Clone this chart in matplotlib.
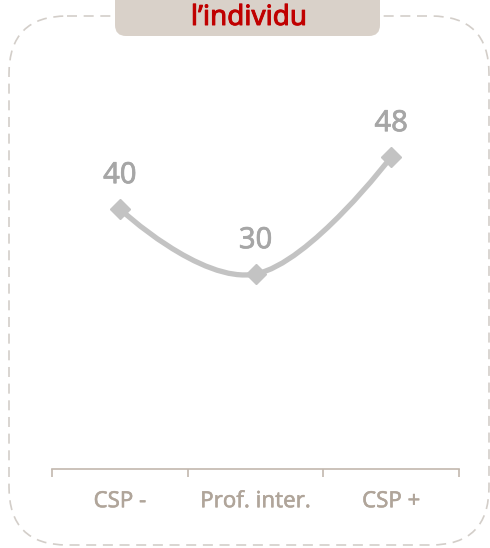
import numpy as np
import matplotlib.pyplot as plt
import matplotlib.patheffects as pe
from matplotlib.patches import FancyBboxPatch, PathPatch
from matplotlib.path import Path

# data
categories = ["CSP -", "Prof. inter.", "CSP +"]
values = [40, 30, 48]
title = "l\u2019individu"

plt.rcParams["font.family"] = ["Noto Sans", "DejaVu Sans"]


def heavier(color, w=0.7):
    # thicken the regular weight a bit (the original uses a medium weight)
    return [pe.withStroke(linewidth=w, foreground=color)]


W, H = 490, 548
fig = plt.figure(figsize=(W / 100, H / 100), dpi=100)

# background layer in pixel coordinates (frame + title tab)
bg = fig.add_axes([0, 0, 1, 1])
bg.set_xlim(0, W)
bg.set_ylim(H, 0)
bg.axis("off")

frame = FancyBboxPatch((9, 16), 480, 529, boxstyle="round,pad=0,rounding_size=58",
                       fill=False, edgecolor="#d3cec9", linewidth=1.2,
                       linestyle=(0, (6, 4)))
bg.add_patch(frame)

tab = FancyBboxPatch((115, -20), 265, 56, boxstyle="round,pad=0,rounding_size=11",
                     facecolor="#d9d1c9", edgecolor="none")
bg.add_patch(tab)
bg.text(249, 18, title, color="#c00000", fontsize=20,
        ha="center", va="center", path_effects=heavier("#c00000", 0.7))

# chart axes: x axis line at y=469px, spans x 52..459px
ymax = 60
ax_bottom = (H - 469) / H
ax_top_px = 469 - ymax * 6.5
ax = fig.add_axes([52 / W, ax_bottom, (459 - 52) / W, (469 - ax_top_px) / H])
ax.patch.set_alpha(0)
ax.set_xlim(-0.5, 2.5)
ax.set_ylim(0, ymax)

x = np.arange(len(values), dtype=float)
y = np.array(values, dtype=float)

# spline like the original chart: bezier control points, smoothing 1.5
sm = 1.5
left_c, right_c = {}, {}
for i in range(1, len(x) - 1):
    lx = (sm * x[i] + x[i - 1]) / (sm + 1)
    ly = (sm * y[i] + y[i - 1]) / (sm + 1)
    rx = (sm * x[i] + x[i + 1]) / (sm + 1)
    ry = (sm * y[i] + y[i + 1]) / (sm + 1)
    corr = (ry - ly) * (rx - x[i]) / (rx - lx) + y[i] - ry
    left_c[i] = (lx, ly + corr)
    right_c[i] = (rx, ry + corr)

verts = [(x[0], y[0])]
codes = [Path.MOVETO]
for i in range(1, len(x)):
    verts += [right_c.get(i - 1, (x[i - 1], y[i - 1])),
              left_c.get(i, (x[i], y[i])),
              (x[i], y[i])]
    codes += [Path.CURVE4] * 3
ax.add_patch(PathPatch(Path(verts, codes), fill=False, edgecolor="#c3c3c3",
                       linewidth=3.8, capstyle="round", zorder=2))
ax.plot(x, y, linestyle="none", marker="D", markersize=10, color="#c3c3c3", zorder=3)

for xi, yi in zip(x, y):
    ax.annotate(f"{yi:.0f}", (xi, yi), xytext=(0, 24), textcoords="offset points",
                ha="center", va="center", color="#a6a6a6", fontsize=21,
                path_effects=heavier("#a6a6a6", 0.5))

for s in ["top", "left", "right"]:
    ax.spines[s].set_visible(False)
ax.spines["bottom"].set_color("#c2b8ae")
ax.spines["bottom"].set_linewidth(1.2)
ax.set_yticks([])
ax.set_xticks([-0.5, 0.5, 1.5, 2.5])
ax.set_xticklabels([])
ax.tick_params(axis="x", direction="out", length=6, color="#c2b8ae", width=1.2)
ax.set_xticks(x, minor=True)
ax.set_xticklabels(categories, minor=True)
ax.tick_params(axis="x", which="minor", length=0, pad=16, labelsize=16,
               labelcolor="#b0a59a")
for lab in ax.get_xticklabels(minor=True):
    lab.set_path_effects(heavier("#b0a59a", 0.35))

fig.savefig("out.png", dpi=100)
